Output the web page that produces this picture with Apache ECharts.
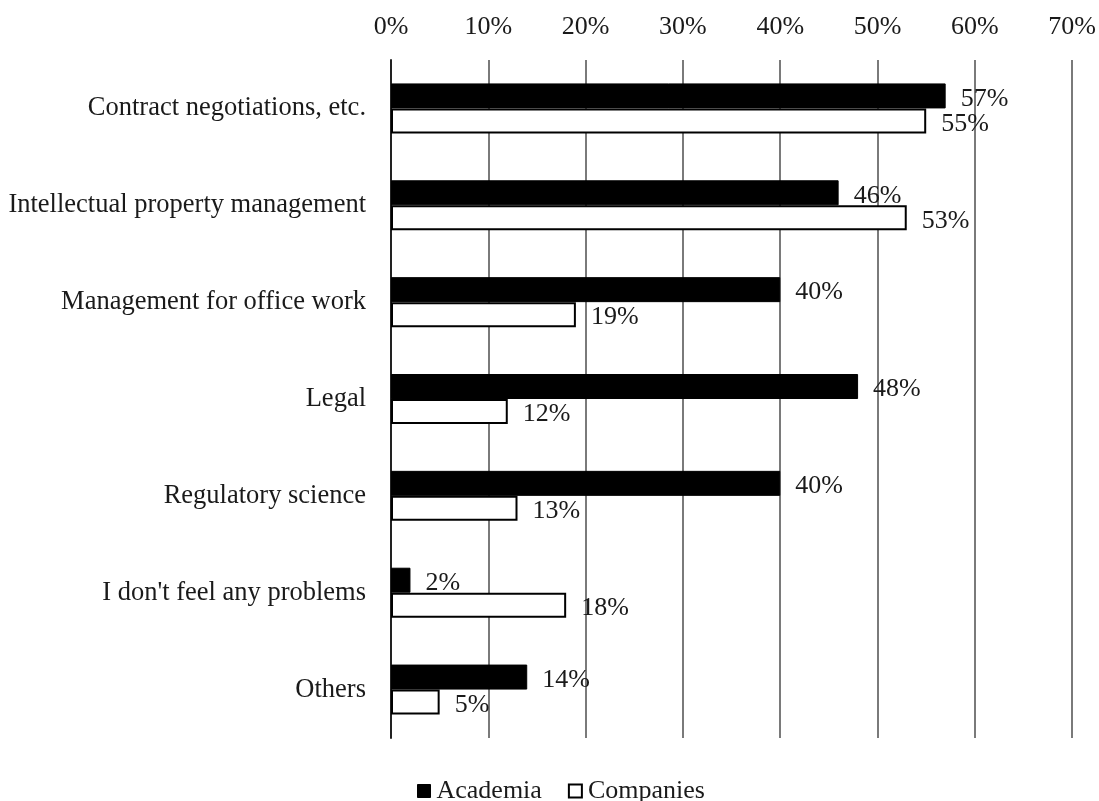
<!DOCTYPE html>
<html>
<head>
<meta charset="utf-8">
<script src="https://cdn.jsdelivr.net/npm/echarts@6/dist/echarts.min.js"></script>
<style>
  html, body { margin: 0; padding: 0; background: #fff; }
  #chart { width: 1099px; height: 801px; }
</style>
</head>
<body>
<div id="chart"></div>
<script>
// Problem areas, top to bottom
const categories = [
  'Contract negotiations, etc.',
  'Intellectual property management',
  'Management for office work',
  'Legal',
  'Regulatory science',
  "I don't feel any problems",
  'Others'
];
// Share of respondents (%)
const academia = [57, 46, 40, 48, 40, 2, 14];
const companies = [55, 53, 19, 12, 13, 18, 5];
const seriesNames = ['Academia', 'Companies'];

const FONT = '"Liberation Serif", "Times New Roman", serif';
const TEXT = '#1a1a1a';
const FS = 26;

const chart = echarts.init(document.getElementById('chart'), null, { renderer: 'canvas' });

const labelCfg = {
  show: true,
  position: 'right',
  distance: 15,
  offset: [0, 3],
  formatter: p => p.value + '%',
  fontFamily: FONT,
  fontSize: FS,
  color: TEXT
};

chart.setOption({
  animation: false,
  backgroundColor: '#fff',
  grid: { left: 391, right: 25, top: 60, bottom: 63, containLabel: false },
  legend: {
    data: [
      { name: seriesNames[0], icon: 'rect', itemStyle: { color: '#000', borderColor: '#000', borderWidth: 1 } },
      { name: seriesNames[1], icon: 'rect', itemStyle: { color: '#fff', borderColor: '#000', borderWidth: 2 } }
    ],
    left: 412,
    top: 773,
    itemWidth: 13,
    itemHeight: 13,
    itemGap: 26,
    textStyle: { fontFamily: FONT, fontSize: FS, color: TEXT, padding: [2, 0, 0, 1] }
  },
  xAxis: {
    type: 'value',
    position: 'top',
    min: 0,
    max: 70,
    interval: 10,
    axisLine: { show: false },
    axisTick: { show: false },
    axisLabel: {
      formatter: v => v + '%',
      fontFamily: FONT,
      fontSize: FS,
      color: TEXT,
      margin: 20
    },
    splitLine: { show: true, lineStyle: { color: '#7a7a7a', width: 2 } }
  },
  yAxis: {
    type: 'category',
    data: categories,
    inverse: true,
    axisLine: { show: true, lineStyle: { color: '#222', width: 2 } },
    axisTick: { show: false },
    axisLabel: {
      fontFamily: FONT,
      fontSize: 26.5,
      color: TEXT,
      margin: 25
    }
  },
  series: [
    {
      name: seriesNames[0],
      type: 'bar',
      data: academia,
      barWidth: 25,
      barGap: '0%',
      itemStyle: { color: '#000', borderColor: '#000', borderWidth: 1 },
      label: labelCfg
    },
    {
      name: seriesNames[1],
      type: 'bar',
      data: companies,
      barWidth: 25,
      barGap: '0%',
      itemStyle: { color: '#fff', borderColor: '#000', borderWidth: 2 },
      label: labelCfg
    }
  ]
});
</script>
</body>
</html>
